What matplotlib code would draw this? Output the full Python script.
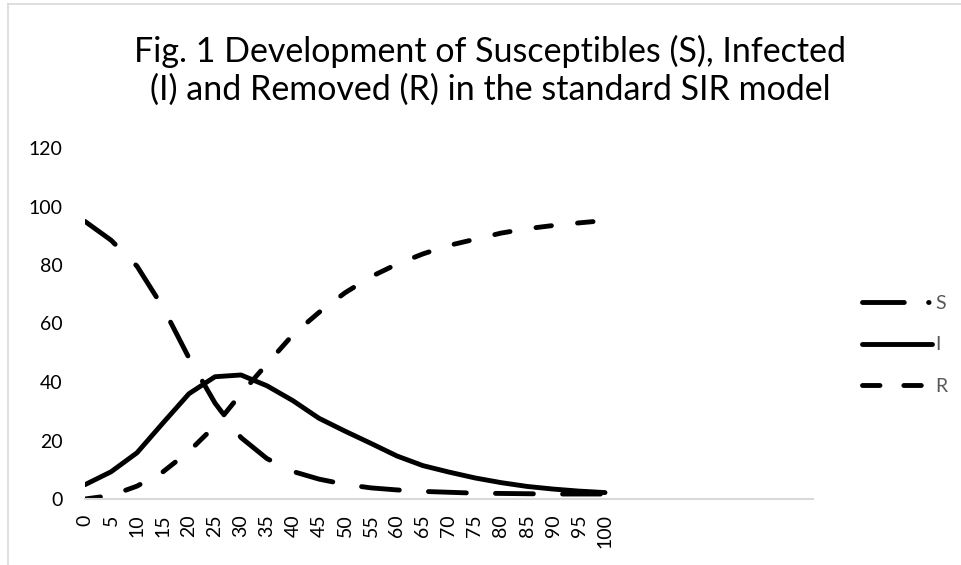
import matplotlib as mpl
mpl.use('Agg')
import matplotlib.pyplot as plt
from matplotlib.lines import Line2D

# values, every 5 time steps
t = [0, 5, 10, 15, 20, 25, 30, 35, 40, 45, 50,
     55, 60, 65, 70, 75, 80, 85, 90, 95, 100]
S = [94.9, 88.5, 79.6, 65.5, 48.2, 32.8, 21.0, 13.8, 9.4, 6.8, 5.0,
     3.8, 3.1, 2.6, 2.3, 2.0, 1.9, 1.8, 1.7, 1.7, 1.7]
I = [4.9, 9.3, 15.8, 26.0, 36.0, 41.8, 42.4, 38.7, 33.6, 27.6, 23.2,
     19.0, 14.7, 11.4, 9.2, 7.2, 5.6, 4.3, 3.4, 2.7, 2.2]
R = [0.0, 1.2, 4.4, 9.3, 16.3, 25.0, 36.0, 46.2, 56.2, 63.8, 70.5,
     76.0, 80.3, 83.8, 86.7, 88.8, 90.9, 92.4, 93.5, 94.4, 95.2]
names = ['S', 'I', 'R']
xticks = list(range(0, 101, 5))
yticks = [0, 20, 40, 60, 80, 100, 120]

plt.rcParams['font.family'] = ['Lato', 'DejaVu Sans']

fig = plt.figure(figsize=(9.62, 5.65), dpi=100)
# chart border (only top and left edges show in the crop)
fig.add_artist(Line2D([8/962, 1], [1 - 4/565, 1 - 4/565],
                      transform=fig.transFigure, color='#d9d9d9', lw=1.2))
fig.add_artist(Line2D([8/962, 8/962], [0, 1 - 4/565],
                      transform=fig.transFigure, color='#d9d9d9', lw=1.2))
ax = fig.add_axes([85/962, 1 - 499/565, (813 - 85)/962, (499 - 148)/565])

lw = 3.5
ax.plot(t, S, color='black', lw=lw, dashes=(7.8, 6.0), dash_capstyle='round')
ax.plot(t, I, color='black', lw=lw, solid_capstyle='round',
        solid_joinstyle='round')
ax.plot(t, R, color='black', lw=lw, dashes=(3.2, 5.4), dash_capstyle='round')

ax.set_xlim(0, 140)
ax.set_ylim(0, 120)
ax.set_xticks(xticks)
ax.set_xticklabels([str(v) for v in xticks], rotation=90, fontsize=14)
ax.set_yticks(yticks)
ax.set_yticklabels([str(v) for v in yticks], fontsize=14)
ax.tick_params(axis='y', length=0, pad=16, colors='black')
ax.tick_params(axis='x', length=0, pad=11, colors='black')
for s in ['top', 'right', 'left']:
    ax.spines[s].set_visible(False)
ax.spines['bottom'].set_color('#d9d9d9')
ax.spines['bottom'].set_linewidth(1.5)

fig.text(490/962, 1 - 62/565,
         'Fig. 1 Development of Susceptibles (S), Infected',
         ha='center', va='baseline', fontsize=24.5, color='black')
fig.text(490/962, 1 - 100/565,
         '(I) and Removed (R) in the standard SIR model',
         ha='center', va='baseline', fontsize=24.5, color='black')

# legend proxies (the S key shows its dot, the plotted line does not)
hS = Line2D([], [], color='black', lw=lw, dashes=(8.6, 5.0, 0.1, 5.0),
            dash_capstyle='round')
hI = Line2D([], [], color='black', lw=lw, solid_capstyle='round')
hR = Line2D([], [], color='black', lw=lw, dashes=(3.6, 4.9),
            dash_capstyle='round')
leg = ax.legend([hS, hI, hR], names, loc='center left',
                bbox_to_anchor=(845/962, 1 - 345/565),
                bbox_transform=fig.transFigure, frameon=False,
                fontsize=14, handlelength=3.55, handletextpad=0.2,
                labelspacing=1.25)
for txt in leg.get_texts():
    txt.set_color('#595959')

fig.savefig('out.png', dpi=100)
